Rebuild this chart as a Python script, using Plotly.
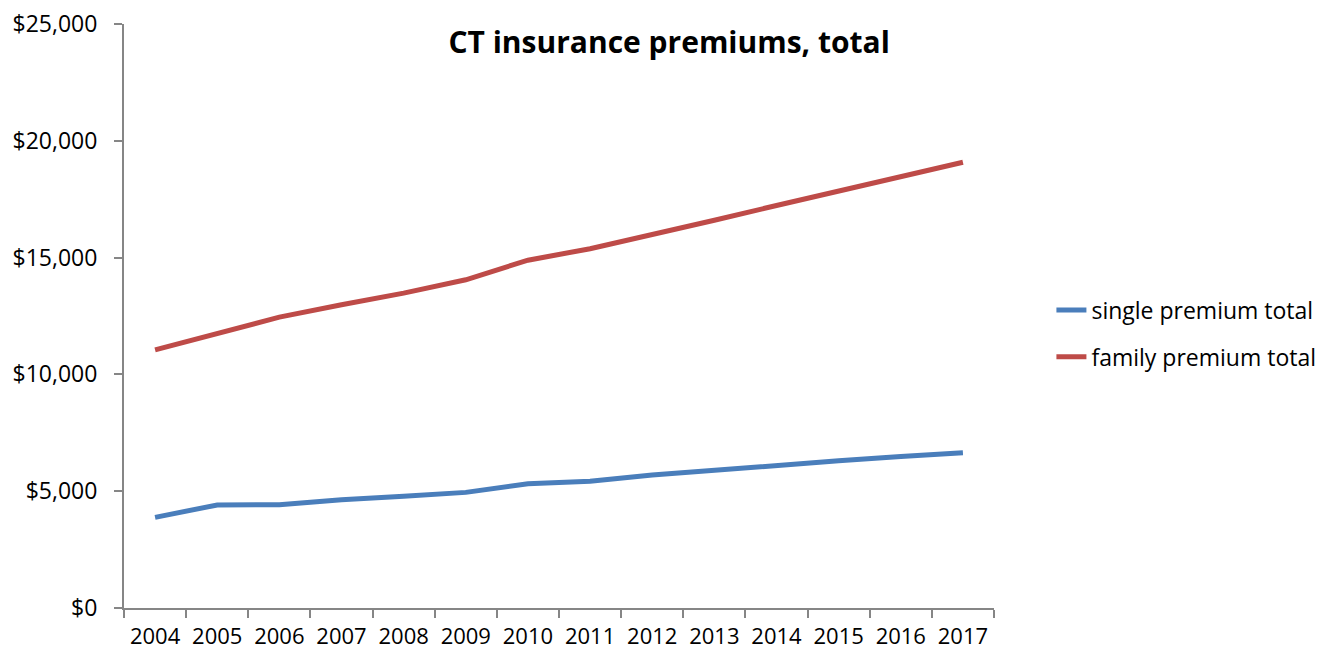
import plotly.graph_objects as go

years = ["2004", "2005", "2006", "2007", "2008", "2009", "2010",
         "2011", "2012", "2013", "2014", "2015", "2016", "2017"]
single_premium = [3880, 4410, 4420, 4630, 4780, 4950, 5320,
                  5430, 5690, 5910, 6100, 6300, 6490, 6650]
family_premium = [11050, 11750, 12450, 12980, 13480, 14050, 14890,
                  15380, 15970, 16600, 17230, 17860, 18460, 19080]

FONT = "Open Sans"

fig = go.Figure()
fig.add_trace(go.Scatter(x=years, y=single_premium, mode="lines",
                         name="single premium total", legendgroup="s",
                         line=dict(color="#4A7EBB", width=5)))
fig.add_trace(go.Scatter(x=years, y=family_premium, mode="lines",
                         name="family premium total", legendgroup="f",
                         line=dict(color="#BE4B48", width=5)))

fig.update_layout(
    width=1325, height=651,
    margin=dict(l=124, r=331, t=24, b=43, autoexpand=False),
    paper_bgcolor="white", plot_bgcolor="white",
    font=dict(family=FONT, size=22, color="#000000"),
    title=dict(text="<b>CT insurance premiums, total</b>",
               x=0.505, xanchor="center", y=0.935, yanchor="middle",
               font=dict(family=FONT, size=30, color="#000000")),
    legend=dict(x=1.066, xanchor="left", y=0.47, yanchor="middle",
                font=dict(family=FONT, size=23), tracegroupgap=14),
    showlegend=True,
)
fig.update_xaxes(type="category", tickson="boundaries", ticks="outside",
                 range=[-0.5, len(years) - 0.5], automargin=False,
                 ticklen=8, tickcolor="#868686", tickwidth=2,
                 showline=True, linecolor="#868686", linewidth=2,
                 showgrid=False, zeroline=False, tickfont=dict(size=22),
                 ticklabelstandoff=8)
fig.update_yaxes(range=[0, 25000], dtick=5000, tickprefix="$", tickformat=",",
                 automargin=False,
                 ticks="outside", ticklen=8, tickcolor="#868686", tickwidth=2,
                 showline=True, linecolor="#868686", linewidth=2,
                 showgrid=False, zeroline=False, tickfont=dict(size=23),
                 ticklabelstandoff=12)

fig.write_html("out.html")
